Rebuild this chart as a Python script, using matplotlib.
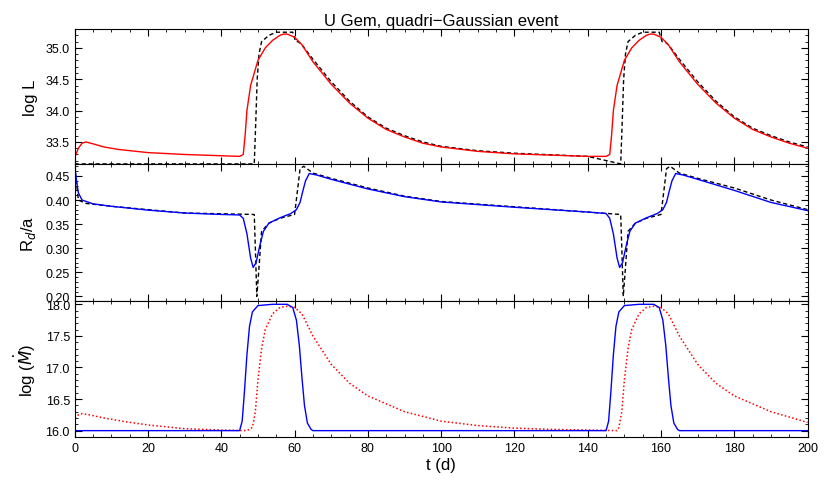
import matplotlib
matplotlib.use("Agg")
import matplotlib.pyplot as plt
from matplotlib.ticker import AutoMinorLocator

plt.rcParams["font.family"] = "Liberation Sans"

# Panel 1: log L
t_L = [0, 1, 2, 3, 5, 8, 12, 20, 30, 40, 45, 46, 46.5, 47, 48, 49, 50, 52, 54, 56, 57, 58, 60, 62, 65, 70, 75, 80, 85, 90, 95, 100, 110, 120, 130, 140, 145,
       146, 146.5, 147, 148, 149, 150, 152, 154, 156, 157, 158, 160, 162, 165, 170, 175, 180, 185, 190, 195, 200]
logL = [33.25, 33.4, 33.48, 33.5, 33.47, 33.42, 33.38, 33.33, 33.3, 33.28, 33.27, 33.3, 33.6, 34.0, 34.4, 34.6, 34.8, 35.0, 35.12, 35.2, 35.22, 35.22, 35.17, 35.05, 34.78, 34.42, 34.12, 33.88, 33.7, 33.58, 33.48, 33.42, 33.35, 33.31, 33.29, 33.27, 33.27,
        33.3, 33.6, 34.0, 34.4, 34.6, 34.8, 35.0, 35.12, 35.2, 35.22, 35.22, 35.17, 35.05, 34.78, 34.42, 34.12, 33.88, 33.7, 33.58, 33.48, 33.4]
t_Ld = [0, 49, 49.4, 49.8, 50.3, 51, 53, 55, 59.5, 60.3, 61, 62, 65, 70, 75, 80, 85, 90, 95, 100, 110, 120, 140, 149,
        149.4, 149.8, 150.3, 151, 153, 155, 159.5, 160.3, 161, 162, 165, 170, 175, 180, 185, 190, 195, 200]
logLd = [33.15, 33.15, 33.8, 34.5, 34.9, 35.1, 35.2, 35.25, 35.25, 35.1, 35.1, 35.05, 34.82, 34.46, 34.15, 33.9, 33.72, 33.6, 33.5, 33.43, 33.36, 33.32, 33.27, 33.15,
         33.8, 34.5, 34.9, 35.1, 35.2, 35.25, 35.25, 35.1, 35.1, 35.05, 34.82, 34.46, 34.15, 33.9, 33.72, 33.6, 33.5, 33.42]

# Panel 2: Rd/a
t_R = [0, 0.5, 1, 2, 5, 10, 20, 30, 40, 45, 46, 47, 48, 48.7, 49.5, 50.5, 51.5, 53, 56, 59, 60.5, 61.5, 62.3, 63, 64, 66, 70, 80, 90, 100, 120, 140, 145,
       146, 147, 148, 148.7, 149.5, 150.5, 151.5, 153, 156, 159, 160.5, 161.5, 162.3, 163, 164, 166, 170, 180, 190, 200]
Rd = [0.47, 0.44, 0.415, 0.4, 0.392, 0.387, 0.379, 0.373, 0.37, 0.369, 0.362, 0.33, 0.28, 0.26, 0.27, 0.305, 0.335, 0.352, 0.363, 0.372, 0.38, 0.395, 0.42, 0.44, 0.455, 0.452, 0.443, 0.423, 0.407, 0.396, 0.385, 0.375, 0.372,
      0.362, 0.33, 0.28, 0.26, 0.27, 0.305, 0.335, 0.352, 0.363, 0.372, 0.38, 0.395, 0.42, 0.44, 0.455, 0.452, 0.443, 0.42, 0.395, 0.378]
t_Rd = [0, 1, 3, 10, 30, 49, 49.3, 49.7, 50.2, 51, 53, 56, 60, 60.8, 61.5, 62.5, 65, 70, 80, 90, 100, 120, 140, 149,
        149.3, 149.7, 150.2, 151, 153, 156, 160, 160.8, 161.5, 162.5, 165, 170, 180, 190, 200]
Rdd = [0.47, 0.4, 0.393, 0.387, 0.373, 0.37, 0.3, 0.2, 0.25, 0.335, 0.352, 0.362, 0.37, 0.42, 0.465, 0.47, 0.456, 0.445, 0.425, 0.408, 0.397, 0.386, 0.375, 0.37,
       0.3, 0.2, 0.25, 0.335, 0.352, 0.362, 0.37, 0.42, 0.465, 0.47, 0.456, 0.445, 0.425, 0.4, 0.38]

# Panel 3: log Mdot
t_M = [0, 45, 45.7, 46.3, 47, 47.7, 48.5, 50, 54, 58, 59.5, 60.5, 61.3, 62, 62.7, 63.5, 64.5, 65, 145,
       145.7, 146.3, 147, 147.7, 148.5, 150, 154, 158, 159.5, 160.5, 161.3, 162, 162.7, 163.5, 164.5, 165, 200]
Mdot = [16.0, 16.0, 16.15, 16.6, 17.2, 17.65, 17.88, 17.98, 18.0, 18.0, 17.95, 17.75, 17.35, 16.85, 16.4, 16.12, 16.02, 16.0, 16.0,
        16.15, 16.6, 17.2, 17.65, 17.88, 17.98, 18.0, 18.0, 17.95, 17.75, 17.35, 16.85, 16.4, 16.12, 16.02, 16.0, 16.0]
t_Mr = [0, 1, 2, 4, 8, 14, 20, 30, 40, 47, 48.5, 49.3, 50, 51, 52, 54, 56, 58, 60, 62, 65, 70, 75, 80, 90, 100, 110, 120, 130, 140, 148,
        148.5, 149.3, 150, 151, 152, 154, 156, 158, 160, 162, 165, 170, 175, 180, 190, 200]
Mdotr = [16.2, 16.25, 16.27, 16.25, 16.2, 16.14, 16.09, 16.03, 16.01, 16.0, 16.05, 16.3, 16.8, 17.3, 17.6, 17.85, 17.95, 17.97, 17.95, 17.85, 17.5, 17.05, 16.75, 16.55, 16.3, 16.15, 16.08, 16.04, 16.02, 16.01, 16.0,
         16.05, 16.3, 16.8, 17.3, 17.6, 17.85, 17.95, 17.97, 17.95, 17.85, 17.5, 17.05, 16.75, 16.55, 16.3, 16.13]

fig = plt.figure(figsize=(8.3, 4.85), dpi=100)
L, W = 0.09, 0.883
ax1 = fig.add_axes([L, 0.66, W, 0.278])
ax2 = fig.add_axes([L, 0.377, W, 0.283], sharex=ax1)
ax3 = fig.add_axes([L, 0.097, W, 0.28], sharex=ax1)

ax1.plot(t_Ld, logLd, color="black", ls=(0, (3, 2)), lw=1)
ax1.plot(t_L, logL, color="red", lw=1)
ax1.set_ylim(33.15, 35.3)
ax1.set_yticks([33.5, 34, 34.5, 35])
ax1.set_ylabel("log L", fontsize=12)
ax1.set_title("U Gem, quadri\u2212Gaussian event", fontsize=12, pad=3)

ax2.plot(t_Rd, Rdd, color="black", ls=(0, (3, 2)), lw=1)
ax2.plot(t_R, Rd, color="blue", lw=1)
ax2.set_ylim(0.19, 0.475)
ax2.set_yticks([0.2, 0.25, 0.3, 0.35, 0.4, 0.45])
ax2.set_ylabel("R$_d$/a", fontsize=12)

ax3.plot(t_Mr, Mdotr, color="red", ls=(0, (1, 1.5)), lw=1.1)
ax3.plot(t_M, Mdot, color="blue", lw=1)
ax3.set_ylim(15.9, 18.05)
ax3.set_yticks([16, 16.5, 17, 17.5, 18])
ax3.set_ylabel(r"log ($\dot{M}$)", fontsize=12)
ax3.set_xlim(0, 200)
ax3.set_xticks(range(0, 201, 20))
ax3.set_xlabel("t (d)", fontsize=12, labelpad=2)

for ax in (ax1, ax2, ax3):
    ax.xaxis.set_minor_locator(AutoMinorLocator(4))
    ax.yaxis.set_minor_locator(AutoMinorLocator(5))
    ax.tick_params(which="both", direction="in", top=True, right=True, labelsize=9)
    ax.tick_params(which="major", length=5)
    ax.tick_params(which="minor", length=2.5)
    ax.yaxis.set_label_coords(-0.05, 0.5)
for ax in (ax1, ax2):
    plt.setp(ax.get_xticklabels(), visible=False)

fig.savefig("out.png", dpi=100)
